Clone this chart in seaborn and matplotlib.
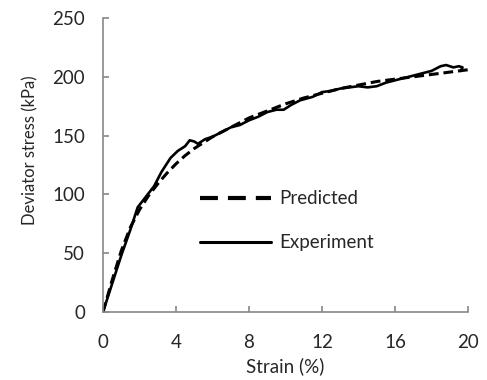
import matplotlib
matplotlib.use("Agg")
import matplotlib.pyplot as plt
from matplotlib.lines import Line2D
import numpy as np
import pandas as pd
import seaborn as sns

# experiment curve (solid)
exp_strain = [0, 0.5, 1.0, 1.5, 1.9, 2.3, 2.8, 3.2, 3.7, 4.1, 4.5, 4.75, 5.0, 5.2,
              5.6, 6.0, 6.5, 7.0, 7.5, 8.0, 8.5, 9.0, 9.5, 9.9, 10.3, 10.8, 11.5,
              12.0, 12.5, 13.0, 13.5, 14.0, 14.5, 15.0, 15.5, 16.0, 16.5, 17.0,
              17.5, 18.0, 18.5, 18.8, 19.2, 19.5, 19.7, 19.6]
exp_stress = [0, 24, 48, 70, 89, 97, 107, 119, 131, 137, 141, 146, 145, 143,
              147, 149, 153, 157, 159, 163, 166, 170, 172, 172, 176, 180, 183,
              187, 188, 190, 191, 192, 191, 192, 195, 197, 199, 201,
              203, 205, 209, 210, 208, 209, 208, 205]

# predicted curve (dashed)
pred_strain = [0, 0.5, 1.0, 1.5, 2.0, 2.5, 3.0, 3.5, 4.0, 4.5, 5.0, 6.0, 7.0,
               8.0, 9.0, 10.0, 11.0, 12.0, 13.0, 14.0, 15.0, 16.0, 17.0, 18.0,
               19.0, 20.0]
pred_stress = [0, 27, 52, 72, 87, 99, 109, 118, 126, 133, 139, 149, 157,
               165, 171, 177, 182, 186, 190, 193, 196, 198, 200, 202,
               204, 206]

df_exp = pd.DataFrame({"strain": exp_strain, "stress": exp_stress})
df_pred = pd.DataFrame({"strain": pred_strain, "stress": pred_stress})

sns.set_style("white")
plt.rcParams["font.family"] = ["Lato", "DejaVu Sans"]

fig = plt.figure(figsize=(4.87, 3.80), dpi=100)
ax = fig.add_axes([0.2115, 0.179, 0.7495, 0.7736])

sns.lineplot(data=df_pred, x="strain", y="stress", ax=ax, color="black",
             linewidth=2.2, linestyle=(0, (3.2, 1.6)), sort=False,
             estimator=None, legend=False)
sns.lineplot(data=df_exp, x="strain", y="stress", ax=ax, color="black",
             linewidth=1.9, sort=False, estimator=None, legend=False)

ax.set_xlim(0, 20)
ax.set_ylim(0, 250)
ax.set_xticks(np.arange(0, 21, 4))
ax.set_yticks(np.arange(0, 251, 50))
ax.set_xlabel("Strain (%)", fontsize=13.5, labelpad=4)
ax.set_ylabel("Deviator stress (kPa)", fontsize=12)
ax.yaxis.set_label_coords(-0.178, 0.551)

for side in ["top", "right"]:
    ax.spines[side].set_visible(False)
for side in ["left", "bottom"]:
    ax.spines[side].set_color("#888888")
    ax.spines[side].set_linewidth(1.2)
ax.tick_params(direction="in", length=4, width=1.2, color="#888888",
               labelsize=13.5, left=True, bottom=True)
ax.tick_params(axis="y", pad=13)
ax.tick_params(axis="x", pad=16)

handles = [Line2D([], [], color="black", linewidth=3, linestyle=(0, (4.3, 2.4))),
           Line2D([], [], color="black", linewidth=2.2)]
ax.legend(handles, ["Predicted", "Experiment"], loc="center left",
          bbox_to_anchor=(0.265, 0.31), frameon=False, fontsize=13.5,
          handlelength=3.8, handletextpad=0.45, labelspacing=1.45,
          borderpad=0, borderaxespad=0)

fig.savefig("out.png", dpi=100)
